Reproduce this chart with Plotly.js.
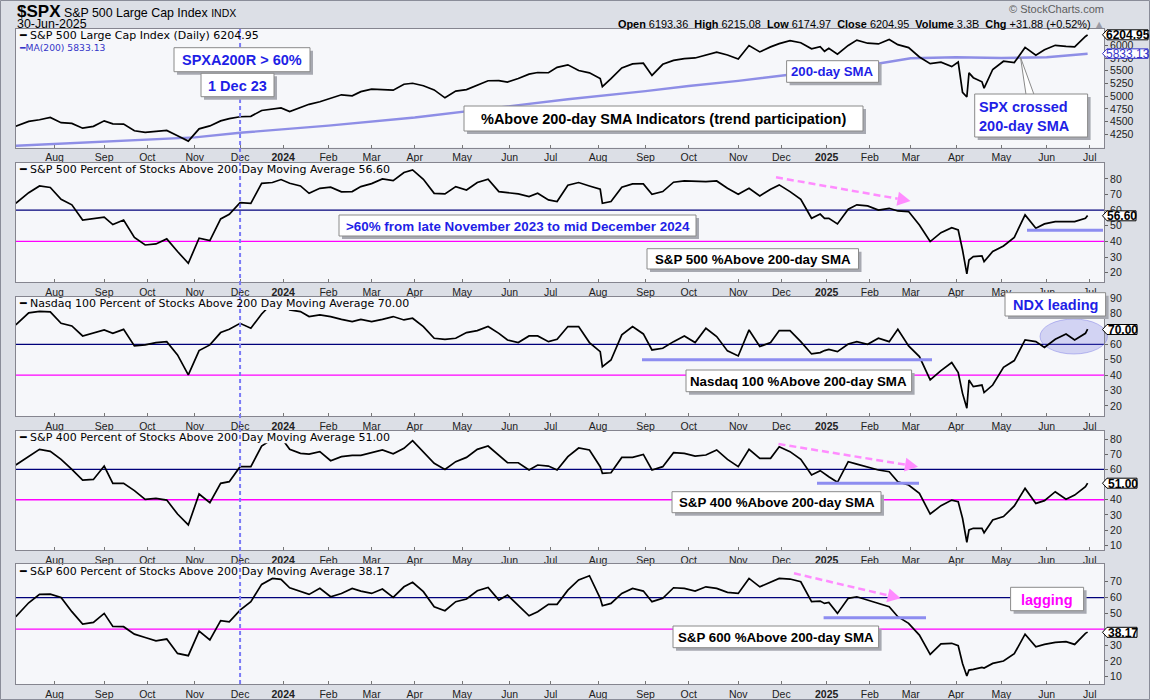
<!DOCTYPE html>
<html><head><meta charset="utf-8">
<script src="https://cdn.plot.ly/plotly-3.0.1.min.js"></script>
<style>html,body{margin:0;padding:0;background:#dcdfe6;}#chart{width:1150px;height:700px;}</style>
</head><body><div id="chart"></div>
<script>
// ---------------- DATA ----------------
const dates = [
'2023-07-06','2023-07-14','2023-07-21','2023-07-28','2023-08-04','2023-08-11','2023-08-18','2023-08-25','2023-09-01','2023-09-08','2023-09-15','2023-09-22','2023-09-29','2023-10-06','2023-10-13','2023-10-20','2023-10-27','2023-11-03','2023-11-10','2023-11-17','2023-11-24','2023-12-01','2023-12-08','2023-12-15','2023-12-22','2023-12-29',
'2024-01-05','2024-01-12','2024-01-19','2024-01-26','2024-02-02','2024-02-09','2024-02-16','2024-02-23','2024-03-01','2024-03-08','2024-03-15','2024-03-22','2024-03-28','2024-04-05','2024-04-12','2024-04-19','2024-04-26','2024-05-03','2024-05-10','2024-05-17','2024-05-24','2024-05-31','2024-06-07','2024-06-14','2024-06-21','2024-06-28','2024-07-05','2024-07-12',
'2024-07-19','2024-07-26','2024-08-02','2024-08-05','2024-08-09','2024-08-16','2024-08-23','2024-08-30','2024-09-06','2024-09-13','2024-09-20','2024-09-27','2024-10-04','2024-10-11','2024-10-18','2024-10-25','2024-11-01','2024-11-08','2024-11-15','2024-11-22','2024-11-29','2024-12-06','2024-12-13','2024-12-20','2024-12-27','2024-12-31',
'2025-01-03','2025-01-10','2025-01-17','2025-01-24','2025-01-31','2025-02-07','2025-02-14','2025-02-21','2025-02-28','2025-03-07','2025-03-14','2025-03-21','2025-03-28','2025-04-02','2025-04-04','2025-04-08','2025-04-09','2025-04-11','2025-04-17','2025-04-21','2025-04-25','2025-05-02','2025-05-09','2025-05-16','2025-05-23','2025-05-30','2025-06-06','2025-06-13','2025-06-20','2025-06-27','2025-06-30'];

const spxClose = [
4411,4505,4536,4582,4478,4464,4370,4406,4515,4457,4450,4320,4288,4308,4327,4224,4117,4358,4415,4514,4559,4595,4604,4719,4755,4770,
4697,4784,4840,4891,4959,5027,5006,5089,5137,5124,5117,5234,5254,5204,5123,4967,5100,5128,5223,5303,5305,5278,5347,5432,5465,5460,5567,5615,
5505,5459,5346,5186,5344,5554,5634,5648,5408,5626,5702,5738,5751,5815,5864,5808,5729,5995,5870,5969,6032,6090,6051,5930,5971,5882,
5942,5827,5997,6101,6041,6026,6115,6013,5955,5770,5639,5668,5581,5671,5074,4983,5457,5363,5283,5158,5525,5686,5660,5958,5803,5912,6000,5977,5967,6173,6205];

const maDates = ['2023-07-06','2023-09-01','2023-11-01','2023-12-01','2024-02-01','2024-04-01','2024-05-01','2024-07-12','2024-09-03','2024-10-01','2024-11-01','2024-12-02','2025-01-02','2025-02-03','2025-03-03','2025-04-01','2025-05-01','2025-06-02','2025-06-30'];
const ma200 = [4026,4100,4190,4282,4420,4580,4694,4940,5100,5200,5300,5400,5510,5613,5744,5764,5750,5764,5833];

const pctSPX = [
64.4,71.2,75.5,74.5,67.0,63.4,53.7,54.8,55.5,50.8,53.7,42.6,37.7,38.4,41.6,33.5,26.0,42.0,40.5,54.4,57.4,64.8,64.4,77.2,77.7,79.6,
77.2,75.5,70.8,74.0,74.7,71.7,71.9,75.1,77.0,80.0,78.9,84.1,85.8,79.8,70.8,70.4,75.1,72.9,77.7,79.8,71.9,71.2,70.4,68.7,70.8,66.6,65.5,76.0,
77.7,75.5,73.4,64.4,65.5,74.7,76.8,76.8,70.2,71.9,77.9,78.7,78.3,78.3,78.7,74.0,70.2,74.0,69.1,73.4,76.2,71.9,67.0,54.8,57.5,54.8,
54.8,51.2,60.6,63.4,62.7,60.1,61.2,59.5,59.1,50.5,39.9,45.6,48.8,47.3,34.5,19.2,28.1,30.3,30.7,27.1,33.5,37.1,42.6,57.0,48.4,51.2,52.7,52.7,52.7,54.8,56.6];

const pctNDX = [
72.7,80.5,81.5,81.1,73.7,72.0,65.5,67.7,69.4,67.2,69.8,59.0,59.7,61.2,61.8,53.2,40.2,56.0,59.7,67.7,69.8,73.7,70.5,79.8,87.0,88.0,
82.4,81.3,78.1,79.2,78.1,76.3,74.8,76.3,74.8,76.3,78.1,75.9,77.0,71.6,64.0,63.3,64.0,67.7,69.0,71.6,67.2,62.9,61.2,65.5,65.5,61.8,63.3,71.6,
71.6,61.2,55.3,45.6,49.9,66.2,71.6,66.8,56.4,57.5,61.8,65.5,61.2,70.5,65.1,55.8,52.5,69.4,58.6,61.2,69.0,69.0,61.8,53.8,54.7,56.0,
56.8,55.3,60.3,61.8,60.1,64.0,61.8,69.8,59.0,52.1,36.9,43.0,48.2,41.7,28.2,18.5,36.9,32.6,33.6,28.7,33.6,45.1,49.5,62.9,61.8,58.1,63.3,66.8,62.9,67.2,70.0];

const pctMID = [
62.9,68.4,73.2,71.9,66.6,60.0,53.0,53.4,62.2,50.8,50.8,46.0,40.3,40.9,39.8,30.6,23.4,43.8,38.1,50.8,51.9,61.8,61.8,75.4,80.0,81.0,
73.2,70.6,70.1,71.7,65.7,68.4,69.2,69.2,71.0,72.8,70.3,73.9,78.9,71.7,64.0,60.0,65.1,67.9,73.2,75.4,69.5,64.4,64.4,59.6,62.9,62.2,59.6,68.4,
74.1,72.8,61.8,57.4,57.8,67.9,67.9,69.9,59.6,61.8,71.0,70.6,68.8,69.5,72.8,66.6,61.8,73.2,67.3,67.3,74.9,71.7,66.6,56.3,59.2,57.0,
55.2,51.5,65.1,63.5,61.3,59.6,58.5,51.9,49.7,44.2,30.6,36.1,39.8,38.7,27.8,12.0,20.1,21.2,21.2,18.3,26.7,28.9,35.9,47.5,37.6,39.4,45.3,40.3,43.1,48.6,51.0];

const pctSML = [
47.9,56.7,62.0,62.2,60.1,51.1,43.3,44.3,50.0,41.8,41.6,36.9,34.8,32.7,33.8,24.7,23.3,38.8,33.2,45.4,44.7,52.1,57.4,68.3,72.1,71.5,
66.2,64.1,62.0,65.8,60.5,62.6,65.8,64.1,62.6,65.4,60.1,66.8,69.6,63.7,54.2,51.7,57.4,59.1,64.3,66.4,58.4,61.6,55.3,48.5,51.1,55.7,55.7,64.7,
71.1,73.8,59.5,54.8,56.3,62.6,65.8,64.1,57.4,59.5,66.2,65.8,64.1,66.8,65.8,63.3,62.6,72.1,66.8,70.0,72.1,71.7,70.0,57.4,57.8,56.3,
56.9,50.0,59.5,60.5,58.4,56.3,54.2,47.9,43.7,36.3,24.1,30.8,31.1,29.6,18.4,10.5,14.2,14.6,15.9,15.5,18.4,19.9,24.5,36.9,28.9,30.4,31.7,32.1,30.4,37.4,38.17];

const tickDates = ['2023-08-01','2023-09-01','2023-10-02','2023-11-01','2023-12-01','2024-01-02','2024-02-01','2024-03-01','2024-04-01','2024-05-01','2024-06-03','2024-07-01','2024-08-01','2024-09-03','2024-10-01','2024-11-01','2024-12-02','2025-01-02','2025-02-03','2025-03-03','2025-04-01','2025-05-01','2025-06-02','2025-07-01'];
const tickText = ['Aug','Sep','Oct','Nov','Dec','<b>2024</b>','Feb','Mar','Apr','May','Jun','Jul','Aug','Sep','Oct','Nov','Dec','<b>2025</b>','Feb','Mar','Apr','May','Jun','Jul'];
const holidays = ['2023-07-04','2023-09-04','2023-11-23','2023-12-25','2024-01-01','2024-01-15','2024-02-19','2024-03-29','2024-05-27','2024-06-19','2024-07-04','2024-09-02','2024-11-28','2024-12-25','2025-01-01','2025-01-09','2025-01-20','2025-02-17','2025-04-18','2025-05-26','2025-06-19','2025-07-04'];

// tick values (values hidden under the last-value tags are left out)
const spxTicks = [4250,4500,4750,5000,5250,5500,5750,6000];
const pctTicks2 = [20,30,40,50,60,70,80];
const pctTicks3 = [20,30,40,50,60,80,90];
const pctTicks4 = [10,20,30,40,60,70,80];
const pctTicks5 = [10,20,30,50,60,70];

// ---------------- LAYOUT HELPERS ----------------
const PX0 = 16, PW = 1088, PY0 = 29, PH = 655;
const px = x => (x - PX0) / PW;
const py = y => 1 - (y - PY0) / PH;
const PLOTBG = '#f6f7fa';
const BLUE = '#1f1fe6';
const BOLD = 'Liberation Sans, Arial, sans-serif';
const VER = 'DejaVu Sans, Verdana, sans-serif';

const shapesBelow = [], shapesAbove = [], annotations = [];

function rect(x0, y0, x1, y1, fill, line, lw) {
  return {type:'rect', xref:'paper', yref:'paper', x0:px(x0), x1:px(x1), y0:py(y1), y1:py(y0),
          fillcolor:fill, line:{color:line || 'rgba(0,0,0,0)', width: lw || 0}, layer:'above'};
}
function path(pts, fill, line, lw) {
  const d = 'M' + pts.map(p => px(p[0]).toFixed(5) + ',' + py(p[1]).toFixed(5)).join('L') + 'Z';
  return {type:'path', xref:'paper', yref:'paper', path:d, fillcolor:fill, line:{color:line || fill, width: lw || 0}, layer:'above'};
}
function seg(x0, y0, x1, y1, color, w, dash) {
  return {type:'line', xref:'paper', yref:'paper', x0:px(x0), y0:py(y0), x1:px(x1), y1:py(y1),
          line:{color:color, width:w, dash:dash || 'solid'}, layer:'above'};
}
function textBox(x0, y0, x1, y1, text, color, size) {
  shapesAbove.push(rect(x0 + 3, y0 + 3, x1 + 3, y1 + 3, '#a7a9b1'));
  shapesAbove.push(rect(x0, y0, x1, y1, '#ffffff', '#8a8a8a', 1));
  annotations.push({xref:'paper', yref:'paper', x:px((x0 + x1) / 2), y:py((y0 + y1) / 2 + 0.5), text:'<b>' + text + '</b>',
    showarrow:false, xanchor:'center', yanchor:'middle', font:{family:BOLD, size:size || 14.5, color:color}});
}
function pinkArrow(x0, y0, x1, y1) {
  const dx = x1 - x0, dy = y1 - y0, L = Math.hypot(dx, dy), ux = dx / L, uy = dy / L, nx = -uy, ny = ux;
  const bx = x1 - 13 * ux, by = y1 - 13 * uy;
  shapesAbove.push(seg(x0, y0, bx, by, '#ff8cff', 2.5, '7px,4px'));
  shapesAbove.push(path([[x1, y1], [bx + 7 * nx, by + 7 * ny], [bx - 7 * nx, by - 7 * ny]], '#ff8cff'));
}
function tag(yc, h, x1, text, color, bold) {
  shapesAbove.push(path([[1102.5, yc], [1107, yc - h / 2], [x1, yc - h / 2], [x1, yc + h / 2], [1107, yc + h / 2]], '#ffffff', color, 1));
  annotations.push({xref:'paper', yref:'paper', x:px((1107 + x1) / 2 + 0.5), y:py(yc + 0.5), text: bold ? '<b>' + text + '</b>' : text,
    showarrow:false, xanchor:'center', yanchor:'middle', font:{family:BOLD, size:12, color:color}});
}
function legendText(x, yc, x1, text, color, size) {
  shapesAbove.push(rect(17, yc - 6, x1, yc + 6, PLOTBG));
  annotations.push({xref:'paper', yref:'paper', x:px(x), y:py(yc), text:text, showarrow:false,
    xanchor:'left', yanchor:'middle', font:{family:VER, size:size || 11, color:color || '#000'}});
}
function label(x, y, text, anchor, font) {
  annotations.push({xref:'paper', yref:'paper', x:px(x), y:py(y), text:text, showarrow:false,
    xanchor:anchor, yanchor:'middle', font:font});
}

// ---- legends (plot-bg boxes hide the data line like StockCharts) ----
legendText(17, 35.5, 268, '━ S&amp;P 500 Large Cap Index (Daily) 6204.95');
legendText(17, 47, 104, '━MA(200) 5833.13', '#3434c8', 9.2);
legendText(17, 169.3, 394, '━ S&amp;P 500 Percent of Stocks Above 200 Day Moving Average 56.60');
legendText(17, 304, 414, '━ Nasdaq 100 Percent of Stocks Above 200 Day Moving Average 70.00');
legendText(17, 437.3, 394, '━ S&amp;P 400 Percent of Stocks Above 200 Day Moving Average 51.00');
legendText(17, 571, 394, '━ S&amp;P 600 Percent of Stocks Above 200 Day Moving Average 38.17');

// ---- vertical dashed marker at 1 Dec 2023 (data-referenced) ----
shapesAbove.push({type:'line', xref:'x', yref:'paper', x0:'2023-12-01', x1:'2023-12-01', y0:0, y1:1,
  line:{color:'#7b7bf5', width:2, dash:'4px,3px'}, layer:'above'});

// ---- horizontal 60 / 40 reference lines ----
['y2','y3','y4','y5'].forEach(ya => {
  shapesBelow.push({type:'line', xref:'paper', yref:ya, x0:0, x1:1, y0:60, y1:60, line:{color:'#00007a', width:1.3}, layer:'below'});
  shapesBelow.push({type:'line', xref:'paper', yref:ya, x0:0, x1:1, y0:40, y1:40, line:{color:'#ff00ff', width:1.3}, layer:'below'});
});

// ---- ellipse (NDX leading) ----
shapesBelow.push({type:'circle', xref:'paper', yref:'paper', x0:px(1040), x1:px(1107.5), y0:py(354), y1:py(319),
  fillcolor:'rgba(120,120,228,0.28)', line:{color:'rgba(120,120,228,0.45)', width:1}, layer:'below'});

// ---- blue support segments ----
shapesAbove.push(seg(1027, 230.3, 1103, 230.3, '#8d8df0', 3));
shapesAbove.push(seg(642, 359.7, 932, 359.7, '#8d8df0', 3));
shapesAbove.push(seg(817, 483.3, 919, 483.3, '#8d8df0', 3));
shapesAbove.push(seg(823.6, 617.7, 926, 617.7, '#8d8df0', 3));

// ---- pink dashed arrows ----
pinkArrow(776, 177.3, 910.5, 201);
pinkArrow(778.5, 444, 918, 466.7);
pinkArrow(794, 573.3, 900.6, 598.3);

// ---- callout wedge for SPX crossed ----
shapesAbove.push(path([[1020.5, 57.3], [1026, 94.5], [1034, 94.5]], '#ffffff', '#8a8a8a', 1));

// ---- text boxes ----
textBox(174, 47.7, 310, 71.7, 'SPXA200R &gt; 60%', BLUE, 14.5);
textBox(201, 73.3, 274, 96.7, '1 Dec 23', BLUE, 14.5);
textBox(464, 106, 863, 131, '%Above 200-day SMA Indicators (trend participation)', '#000', 14.5);
textBox(786.6, 60.7, 878.6, 82.3, '200-day SMA', BLUE, 13.2);
shapesAbove.push(rect(977.7, 97, 1090.6, 140, '#a7a9b1'));
shapesAbove.push(rect(974.7, 94, 1087.6, 137, '#ffffff', '#8a8a8a', 1));
annotations.push({xref:'paper', yref:'paper', x:px(977), y:py(116), text:'<b>SPX crossed<br>200-day SMA</b>', align:'left',
  showarrow:false, xanchor:'left', yanchor:'middle', font:{family:BOLD, size:14.5, color:BLUE}});
textBox(339, 215, 696, 236, '&gt;60% from late November 2023 to mid December 2024', BLUE, 13.4);
textBox(647, 248.7, 858.5, 269, 'S&amp;P 500 %Above 200-day SMA', '#000', 13.3);
textBox(1005, 292.7, 1105.6, 316, 'NDX leading', BLUE, 14.5);
textBox(686, 370, 911.6, 391.7, 'Nasdaq 100 %Above 200-day SMA', '#000', 13.3);
textBox(672, 491.7, 881, 512.7, 'S&amp;P 400 %Above 200-day SMA', '#000', 13.3);
textBox(673, 626, 878.6, 647.7, 'S&amp;P 600 %Above 200-day SMA', '#000', 13.3);
textBox(1010.6, 587.3, 1083.6, 610.7, 'lagging', '#ff00ff', 14.5);

// ---- last value tags ----
tag(34.8, 10, 1148, '6204.95', '#000', true);
tag(53.6, 9.5, 1148, '5833.13', '#3434c8', false);
tag(215.8, 10, 1136, '56.60', '#000', true);
tag(329.5, 10, 1137, '70.00', '#000', true);
tag(483.2, 10, 1137, '51.00', '#000', true);
tag(632.3, 10, 1137, '38.17', '#000', true);

// ---- header ----
label(15, 12, '<b style="font-size:17px">$SPX</b> S&amp;P 500 Large Cap Index <span style="font-size:10.5px">INDX</span>', 'left', {family:BOLD, size:12.4, color:'#000'});
label(15, 23.5, '30-Jun-2025', 'left', {family:BOLD, size:12.4, color:'#000'});
label(1106, 9, '© StockCharts.com', 'right', {family:BOLD, size:11, color:'#5e5e5e'});
const S = '\u00a0\u00a0';
label(1106, 23.5, '<b>Open</b> 6193.36' + S + '<b>High</b> 6215.08' + S + '<b>Low</b> 6174.97' + S + '<b>Close</b> 6204.95' + S +
  '<b>Volume</b> 3.3B' + S + '<b>Chg</b> +31.88 (+0.52%) <span style="color:#9a9aa5">▲</span>', 'right', {family:BOLD, size:10.9, color:'#000'});

// outer frame
shapesAbove.push({type:'rect', xref:'paper', yref:'paper', x0:px(0.5), x1:px(1149.5), y0:py(699.5), y1:py(0.5),
  line:{color:'#8a8d99', width:1}, fillcolor:'rgba(0,0,0,0)', layer:'above'});

// ---------------- AXES ----------------
const R0 = '2023-07-06 02:24', R1 = '2025-07-10 14:24';
const rb = [{bounds:['sat','mon']}, {values:holidays}];
function xax(anchor) {
  return {type:'date', range:[R0, R1], rangebreaks:rb, anchor:anchor, domain:[0,1],
    tickmode:'array', tickvals:tickDates, ticktext:tickText, ticks:'inside', ticklen:3, tickcolor:'#777',
    tickfont:{family:BOLD, size:10.5, color:'#222'}, showline:true, mirror:true, linecolor:'#85858f', linewidth:1,
    showgrid:false, zeroline:false, fixedrange:true};
}
function yax(anchor, dom, range, ticks) {
  return {anchor:anchor, domain:dom, range:range, side:'right', tickmode:'array', tickvals:ticks,
    ticks:'outside', ticklen:3, tickcolor:'#666', tickfont:{family:BOLD, size:10.5, color:'#222'},
    showline:true, mirror:true, linecolor:'#85858f', linewidth:1, showgrid:false, zeroline:false, fixedrange:true};
}
const D1 = [py(147.7), 1], D2 = [py(282), py(162.7)], D3 = [py(416), py(296.7)], D4 = [py(550), py(430.7)], D5 = [0, py(564)];

const lineStyle = {color:'#000', width:1.7};
const traces = [
  {x:maDates, y:ma200, xaxis:'x', yaxis:'y', mode:'lines', line:{color:'#8e8ee6', width:2.4}},
  {x:dates, y:spxClose, xaxis:'x', yaxis:'y', mode:'lines', line:lineStyle},
  {x:dates, y:pctSPX, xaxis:'x2', yaxis:'y2', mode:'lines', line:lineStyle},
  {x:dates, y:pctNDX, xaxis:'x3', yaxis:'y3', mode:'lines', line:lineStyle},
  {x:dates, y:pctMID, xaxis:'x4', yaxis:'y4', mode:'lines', line:lineStyle},
  {x:dates, y:pctSML, xaxis:'x5', yaxis:'y5', mode:'lines', line:lineStyle}
];

const layout = {
  width:1150, height:700, autosize:false, showlegend:false,
  margin:{l:PX0, r:1150 - PX0 - PW, t:PY0, b:700 - PY0 - PH, pad:0},
  paper_bgcolor:'#dcdfe6', plot_bgcolor:PLOTBG,
  font:{family:BOLD, size:11, color:'#222'},
  xaxis:xax('y'), xaxis2:xax('y2'), xaxis3:xax('y3'), xaxis4:xax('y4'), xaxis5:xax('y5'),
  yaxis:yax('x', D1, [3987, 6320], spxTicks),
  yaxis2:yax('x2', D2, [14, 90.4], pctTicks2),
  yaxis3:yax('x3', D3, [13.5, 91], pctTicks3),
  yaxis4:yax('x4', D4, [6.9, 85.5], pctTicks4),
  yaxis5:yax('x5', D5, [5.4, 81.2], pctTicks5),
  shapes: shapesBelow.concat(shapesAbove),
  annotations: annotations,
  hovermode:false
};

Plotly.newPlot('chart', traces, layout, {staticPlot:true, displayModeBar:false});
</script></body></html>
